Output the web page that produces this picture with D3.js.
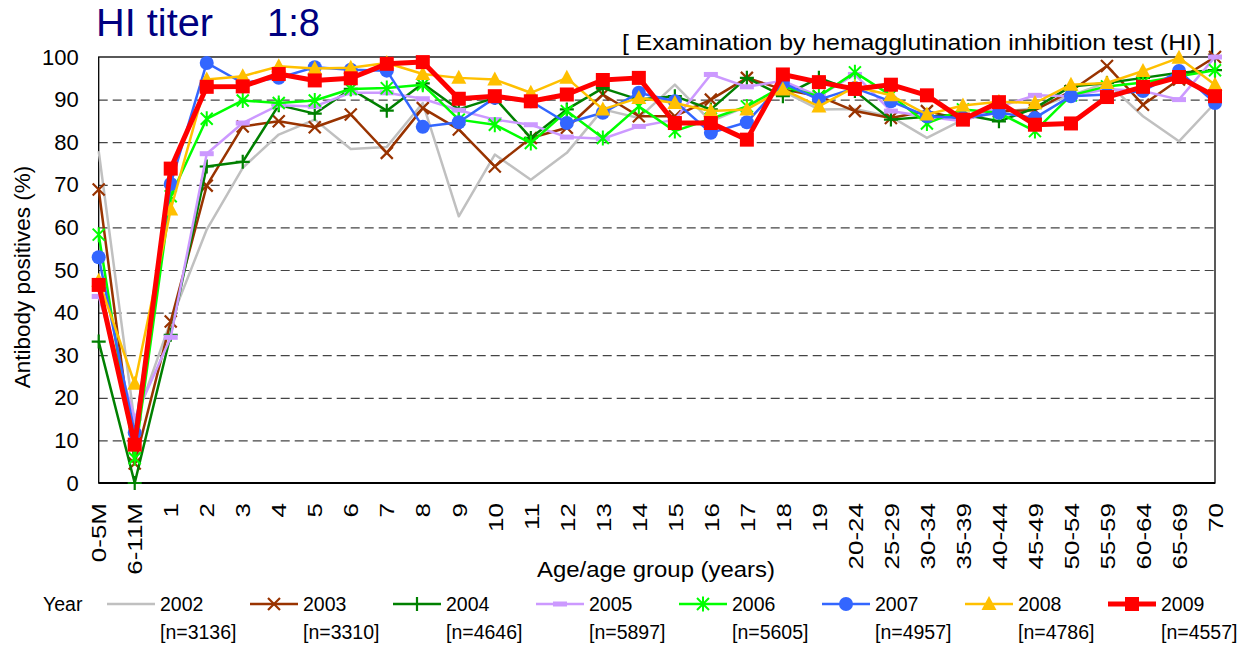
<!DOCTYPE html>
<html>
<head>
<meta charset="utf-8">
<script src="https://cdn.jsdelivr.net/npm/d3@7"></script>
<style>
  body { margin: 0; background: #fff; }
  svg { display: block; font-family: "Liberation Sans", Arial, sans-serif; }
</style>
</head>
<body>
<div id="chart"></div>
<script>
const ageGroups = ['0-5M', '6-11M', '1', '2', '3', '4', '5', '6', '7', '8', '9', '10',
    '11', '12', '13', '14', '15', '16', '17', '18', '19', '20-24', '25-29', '30-34',
    '35-39', '40-44', '45-49', '50-54', '55-59', '60-64', '65-69', '70'];

const yTicks = [0, 10, 20, 30, 40, 50, 60, 70, 80, 90, 100];

const years = ['2002', '2003', '2004', '2005', '2006', '2007', '2008', '2009'];
const sampleSizes = [3136, 3310, 4646, 5897, 5605, 4957, 4786, 4557];

const v2002 = [77.9, 14, 38, 59.5, 74, 81.8, 85.3, 78.4, 78.9, 89.2, 62.6, 77.1, 71.2, 77.5, 87.7, 85.7,
    93.5, 84.9, 88.4, 92, 87.7, 87.8, 86, 81, 85.3, 87, 88, 91, 94, 86.1, 80.2, 89.2];
const v2003 = [68.9, 4.6, 37.9, 69.8, 83.7, 84.9, 83.5, 86.5, 77.5, 88, 83, 74.3, 81, 83.4, 91.2, 86.1,
    86.1, 90, 95.1, 92.4, 90.8, 87.3, 85.7, 87.3, 85.3, 87.3, 87.5, 92, 97.9, 88.8, 94.7, 100];
const v2004 = [33.2, 0, 34.8, 74.3, 75.4, 88.7, 86.7, 92.5, 87.4, 93.8, 87.7, 90.4, 81, 87.7, 92.7, 90,
    90.8, 87.7, 95.1, 90.8, 95.1, 92, 85.3, 86, 86.5, 84.9, 88, 93.1, 93.9, 95.1, 96.3, 96.9];
const v2005 = [43.8, 15.2, 34.2, 77.3, 84.5, 88.7, 88.4, 91.6, 91.6, 90.2, 87.5, 85.3, 84.1, 81.2, 80.8, 83.7,
    85.3, 95.9, 93, 94.4, 90.8, 95.9, 87.3, 86, 84.9, 88.3, 91, 90.8, 92.5, 92, 90, 100];
const v2006 = [58.3, 5.8, 67.3, 85.5, 89.8, 89.2, 89.8, 92.5, 92.7, 93.5, 85.3, 84.1, 79.8, 87.3, 81, 88.4,
    82.6, 85.5, 88.4, 93.1, 90.8, 96.4, 91, 84.4, 87.7, 86.9, 82.6, 91, 93.1, 94, 95.5, 96.9];
const v2007 = [53, 11.8, 70.2, 98.6, 93.9, 95.1, 97.6, 97, 96.8, 83.6, 84.7, 90.4, 89.6, 84.5, 86.9, 91.6,
    89.6, 82.2, 84.7, 93.9, 90, 92.7, 89.6, 86.1, 85.7, 86.9, 85.7, 90.8, 91.2, 92, 96.7, 89.2];
const v2008 = [47.5, 23.3, 64.2, 94.7, 95.5, 97.8, 97.3, 97.5, 98.6, 96, 95.1, 94.7, 91.6, 95.1, 87.7, 90.4,
    89.2, 87.3, 87.7, 92.4, 88.4, 93, 91, 86.5, 88.6, 89.5, 89.2, 93.5, 93.9, 96.7, 99.8, 93.5];
const v2009 = [46.5, 9, 73.8, 93, 93.1, 96, 94.5, 95, 98.4, 98.8, 90.2, 90.8, 89.6, 91.2, 94.6, 95.1,
    84.5, 84.5, 80.6, 95.9, 94.1, 92.5, 93.5, 91, 85.3, 89.4, 84.1, 84.4, 90.6, 93, 95.3, 90.8];

const seriesValues = [v2002, v2003, v2004, v2005, v2006, v2007, v2008, v2009];

// look of each year's line and marker
const styles = [
    { color: '#c0c0c0', width: 2.5, marker: 'none' },
    { color: '#993300', width: 2.5, marker: 'x' },
    { color: '#008000', width: 2.5, marker: 'plus' },
    { color: '#cc99ff', width: 2.5, marker: 'dash' },
    { color: '#00ff00', width: 2.5, marker: 'star' },
    { color: '#3366ff', width: 2.5, marker: 'circle' },
    { color: '#ffc000', width: 2.5, marker: 'triangle' },
    { color: '#ff0000', width: 5, marker: 'square' }
];

const width = 1251;
const height = 645;
const plot = { left: 98.7, right: 1215, top: 57, bottom: 483 };

const svg = d3.select('#chart')
    .append('svg')
    .attr('width', width)
    .attr('height', height);

const xScale = d3.scalePoint()
    .domain(ageGroups)
    .range([plot.left, plot.right])
    .padding(0);

const yScale = d3.scaleLinear()
    .domain([0, 100])
    .range([plot.bottom, plot.top]);

// titles
svg.append('text')
    .attr('x', 96).attr('y', 36)
    .attr('fill', '#000080')
    .style('font-size', '38px')
    .attr('textLength', 117)
    .attr('lengthAdjust', 'spacingAndGlyphs')
    .text('HI titer');
svg.append('text')
    .attr('x', 267).attr('y', 36)
    .attr('fill', '#000080')
    .style('font-size', '38px')
    .text('1:8');

svg.append('text')
    .attr('x', 1215).attr('y', 50)
    .attr('text-anchor', 'end')
    .style('font-size', '22px')
    .attr('textLength', 593)
    .attr('lengthAdjust', 'spacingAndGlyphs')
    .text('[ Examination by hemagglutination inhibition test (HI) ]');

// gridlines
svg.append('g')
    .attr('class', 'gridlines')
    .attr('transform', `translate(${plot.left},0)`)
    .call(d3.axisLeft(yScale).tickValues(yTicks.filter(d => d > 0 && d < 100))
        .tickFormat('').tickSize(-(plot.right - plot.left)))
    .call(g => g.select('.domain').remove())
    .call(g => g.selectAll('line')
        .attr('stroke', '#444')
        .attr('stroke-width', 1.2)
        .attr('stroke-dasharray', '9,5'));

// frame
svg.append('rect')
    .attr('x', plot.left).attr('y', plot.top)
    .attr('width', plot.right - plot.left)
    .attr('height', plot.bottom - plot.top)
    .attr('fill', 'none')
    .attr('stroke', '#000')
    .attr('stroke-width', 1.3);
svg.append('line')
    .attr('x1', plot.left).attr('x2', plot.right)
    .attr('y1', plot.bottom).attr('y2', plot.bottom)
    .attr('stroke', '#000')
    .attr('stroke-width', 2.2);

// y axis
svg.append('g')
    .attr('transform', `translate(${plot.left},0)`)
    .call(d3.axisLeft(yScale).tickValues(yTicks).tickSize(0).tickPadding(20))
    .call(g => g.select('.domain').remove())
    .call(g => g.selectAll('text')
        .style('font-size', '22px')
        .style('font-family', '"Liberation Sans", Arial, sans-serif')
        .attr('fill', '#000'));

// x axis labels, rotated
svg.append('g')
    .attr('transform', `translate(0,${plot.bottom})`)
    .call(d3.axisBottom(xScale).tickSize(0))
    .call(g => g.select('.domain').remove())
    .call(g => g.selectAll('text')
        .style('font-size', '20px')
        .style('font-family', '"Liberation Sans", Arial, sans-serif')
        .attr('fill', '#000')
        .attr('transform', 'rotate(-90) scale(1.3,1)')
        .attr('x', -20 / 1.3)
        .attr('y', 0)
        .attr('dy', '0.36em')
        .style('text-anchor', 'end'));

svg.append('text')
    .attr('transform', 'translate(22,277) rotate(-90)')
    .attr('text-anchor', 'middle')
    .attr('dy', '0.35em')
    .style('font-size', '22.5px')
    .text('Antibody positives (%)');

svg.append('text')
    .attr('x', 656).attr('y', 577)
    .attr('text-anchor', 'middle')
    .style('font-size', '22px')
    .attr('textLength', 238)
    .attr('lengthAdjust', 'spacingAndGlyphs')
    .text('Age/age group (years)');

function drawMarker(g, style, x, y) {
    const c = style.color;
    if (style.marker === 'x') {
        g.append('path').attr('d', `M${x - 6},${y - 6}L${x + 6},${y + 6}M${x - 6},${y + 6}L${x + 6},${y - 6}`)
            .attr('stroke', c).attr('stroke-width', 2.2).attr('fill', 'none');
    } else if (style.marker === 'plus') {
        g.append('path').attr('d', `M${x - 7},${y}L${x + 7},${y}M${x},${y - 7}L${x},${y + 7}`)
            .attr('stroke', c).attr('stroke-width', 2.2).attr('fill', 'none');
    } else if (style.marker === 'dash') {
        g.append('rect').attr('x', x - 7).attr('y', y - 2.5).attr('width', 14).attr('height', 5)
            .attr('fill', c);
    } else if (style.marker === 'star') {
        g.append('path').attr('d', `M${x - 6},${y - 6}L${x + 6},${y + 6}M${x - 6},${y + 6}L${x + 6},${y - 6}` +
            `M${x},${y - 7.5}L${x},${y + 7.5}`)
            .attr('stroke', c).attr('stroke-width', 2).attr('fill', 'none');
    } else if (style.marker === 'circle') {
        g.append('circle').attr('cx', x).attr('cy', y).attr('r', 7).attr('fill', c);
    } else if (style.marker === 'triangle') {
        g.append('path').attr('d', `M${x},${y - 8}L${x + 7.5},${y + 6}L${x - 7.5},${y + 6}Z`)
            .attr('fill', c);
    } else if (style.marker === 'square') {
        g.append('rect').attr('x', x - 7).attr('y', y - 7).attr('width', 14).attr('height', 14)
            .attr('fill', c);
    }
}

const line = d3.line()
    .x((d, i) => xScale(ageGroups[i]))
    .y(d => yScale(d));

years.forEach((year, k) => {
    const style = styles[k];
    const g = svg.append('g').attr('class', 'series-' + year);
    g.append('path')
        .datum(seriesValues[k])
        .attr('d', line)
        .attr('fill', 'none')
        .attr('stroke', style.color)
        .attr('stroke-width', style.width)
        .attr('stroke-linejoin', 'round');
    seriesValues[k].forEach((v, i) => drawMarker(g, style, xScale(ageGroups[i]), yScale(v)));
});

// legend
const legend = svg.append('g').attr('class', 'legend');
legend.append('text')
    .attr('x', 43).attr('y', 611)
    .style('font-size', '19.5px')
    .text('Year');

years.forEach((year, k) => {
    const style = styles[k];
    const tx = 160 + k * 143;
    const ly = 604;
    legend.append('line')
        .attr('x1', tx - 53).attr('x2', tx - 5)
        .attr('y1', ly).attr('y2', ly)
        .attr('stroke', style.color)
        .attr('stroke-width', style.width);
    drawMarker(legend, style, tx - 29, ly);
    legend.append('text')
        .attr('x', tx).attr('y', 611)
        .style('font-size', '19.5px')
        .text(year);
    legend.append('text')
        .attr('x', tx).attr('y', 639)
        .style('font-size', '19.5px')
        .text(`[n=${sampleSizes[k]}]`);
});
</script>
</body>
</html>
